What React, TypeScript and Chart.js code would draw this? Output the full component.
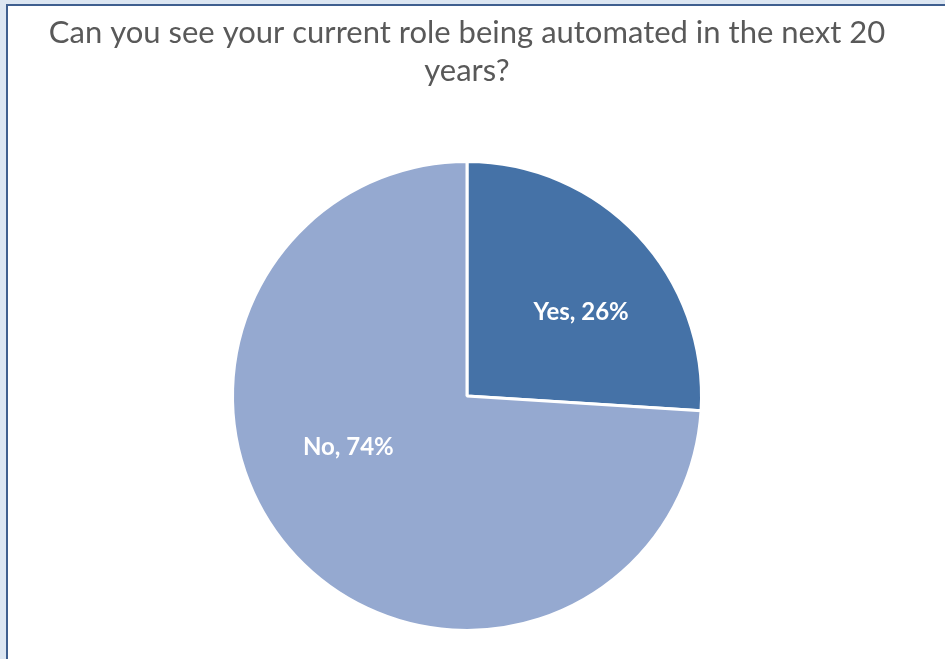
import React, { useEffect, useRef } from "react";
import { Chart, registerables } from "chart.js";

Chart.register(...registerables);

const titleLines = [
  "Can you see your current role being automated in the next 20",
  "years?",
];
const categories = ["Yes", "No"];
const percentages = [26, 74];
const sliceColors = ["#4572A7", "#95A9D0"];

const sliceLabelPlugin = {
  id: "sliceLabels",
  afterDatasetsDraw(chart: any, _args: any, opts: any) {
    const meta = chart.getDatasetMeta(0);
    const ctx = chart.ctx;
    ctx.save();
    ctx.font = opts.font;
    ctx.fillStyle = opts.color;
    ctx.textAlign = "center";
    ctx.textBaseline = "middle";
    meta.data.forEach((arc: any, i: number) => {
      const p = arc.getProps(["x", "y", "startAngle", "endAngle", "outerRadius"], true);
      const place = opts.placement[i];
      const a = (p.startAngle + p.endAngle) / 2 + (place.shift * Math.PI) / 180;
      const r = p.outerRadius * place.frac;
      const text = `${chart.data.labels[i]}, ${chart.data.datasets[0].data[i]}%`;
      ctx.fillText(text, p.x + r * Math.cos(a), p.y + r * Math.sin(a));
    });
    ctx.restore();
  },
};

export default function App() {
  const ref = useRef<HTMLCanvasElement>(null);
  useEffect(() => {
    if (!ref.current) return;
    const chart = new Chart(ref.current, {
      type: "pie",
      data: {
        labels: categories,
        datasets: [
          {
            data: percentages,
            backgroundColor: sliceColors,
            borderColor: "#ffffff",
            borderWidth: 3,
          },
        ],
      },
      options: {
        responsive: false,
        animation: false,
        layout: { padding: { top: 0, bottom: 27, left: 0, right: 0 } },
        plugins: {
          legend: { display: false },
          tooltip: { enabled: false },
          title: {
            display: true,
            text: titleLines,
            color: "#595959",
            font: { family: "Lato", size: 31, weight: "normal", lineHeight: 1.226 },
            padding: { top: 8, bottom: 70 },
          },
          sliceLabels: {
            font: "bold 24px Lato",
            color: "#ffffff",
            placement: [
              { shift: 6.8, frac: 0.605 },
              { shift: 19.9, frac: 0.551 },
            ],
          },
        } as any,
      },
      plugins: [sliceLabelPlugin],
    });
    return () => chart.destroy();
  }, []);

  return (
    <div
      style={{
        position: "fixed",
        left: 0,
        top: 0,
        width: 945,
        height: 659,
        background: "#dce6f2",
        overflow: "hidden",
      }}
    >
      <div
        style={{
          position: "absolute",
          left: 6,
          top: 4,
          width: 960,
          height: 700,
          background: "#ffffff",
          borderLeft: "2px solid #3f5f8f",
          borderTop: "2px solid #3f5f8f",
        }}
      />
      <canvas
        ref={ref}
        width={918}
        height={653}
        style={{ position: "absolute", left: 8, top: 6, width: 918, height: 653 }}
      />
    </div>
  );
}
